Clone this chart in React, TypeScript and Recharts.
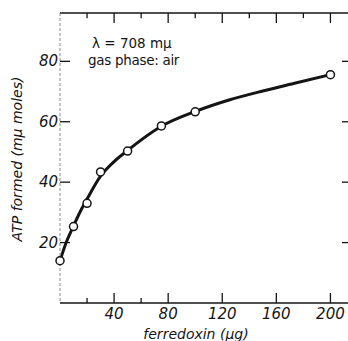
import React from 'react';
import { LineChart, Line, XAxis, YAxis, ReferenceLine } from 'recharts';

// measured points
const ferredoxin = [0, 10, 20, 30, 50, 75, 100, 200];
const atpFormed = [14, 25.3, 33, 43.4, 50.3, 58.6, 63.3, 75.6];
// hand-drawn fitted curve
const curveX = [0, 5, 10, 15, 20, 30, 40, 50, 75, 100, 125, 150, 175, 200];
const curveY = [14, 20.5, 25.5, 30.3, 34.4, 42, 46.8, 50.5, 58.5, 63.4, 67.2, 70.2, 72.9, 75.6];
const xTicks = [20, 40, 60, 80, 100, 120, 140, 160, 180, 200];
const yTicks = [20, 40, 60, 80];

const points = ferredoxin.map((x, i) => ({ x, y: atpFormed[i] }));
const curve = curveX.map((x, i) => ({ x, y: curveY[i] }));

const INK = '#141414';
const FONT = '"DejaVu Sans", sans-serif';
const Y_MAX = 96;

const BottomTick = (props: any) => {
  const { x, y, payload } = props;
  const major = payload.value % 40 === 0;
  return (
    <g>
      <line x1={x} x2={x} y1={y} y2={y - (major ? 10 : 5)} stroke={INK} strokeWidth={1.3} />
      {major && (
        <text x={x} y={y + 16} textAnchor="middle" fontSize={15} fontStyle="italic" fontFamily={FONT} fill={INK}>
          {payload.value}
        </text>
      )}
    </g>
  );
};

const LeftTick = (props: any) => {
  const { x, y, payload } = props;
  return (
    <g>
      <line x1={x} x2={x + 10} y1={y} y2={y} stroke={INK} strokeWidth={1.3} />
      <text x={x - 2} y={y + 5} textAnchor="end" fontSize={15} fontStyle="italic" fontFamily={FONT} fill={INK}>
        {payload.value}
      </text>
    </g>
  );
};

const RightTick = (props: any) => {
  const { x, y } = props;
  return <line x1={x} x2={x - 6} y1={y} y2={y} stroke={INK} strokeWidth={1.3} />;
};

const Dot = (props: any) => {
  const { cx, cy } = props;
  return <circle cx={cx} cy={cy} r={4} fill="#fff" stroke={INK} strokeWidth={1.5} />;
};

export default function App() {
  return (
    <div style={{ position: 'absolute', left: 0, top: 0, width: 348, height: 341, background: '#fff', overflow: 'hidden' }}>
      <LineChart width={348} height={341} margin={{ top: 1, right: -20, bottom: 0, left: 0 }}>
        <XAxis
          xAxisId="bottom"
          dataKey="x"
          type="number"
          domain={[0, 213]}
          ticks={xTicks}
          height={38}
          tickSize={0}
          tickMargin={0}
          tickLine={false}
          tick={<BottomTick />}
          axisLine={{ stroke: INK, strokeWidth: 1.5 }}
          label={{
            value: 'ferredoxin (μg)',
            position: 'insideBottom',
            dx: -8,
            dy: 3,
            fill: INK,
            style: { fontSize: 14, fontStyle: 'italic', fontFamily: FONT, fill: INK },
          }}
        />
        <XAxis
          xAxisId="top"
          orientation="top"
          dataKey="x"
          type="number"
          domain={[0, 213]}
          height={12}
          tick={false}
          tickLine={false}
          axisLine={{ stroke: INK, strokeWidth: 1.5 }}
        />
        <YAxis
          yAxisId="left"
          type="number"
          domain={[0, Y_MAX]}
          ticks={yTicks}
          width={60}
          tickSize={0}
          tickMargin={0}
          tickLine={false}
          tick={<LeftTick />}
          axisLine={{ stroke: '#8a8a8a', strokeWidth: 1, strokeDasharray: '3 2' }}
          label={{
            value: 'ATP formed (mμ moles)',
            angle: -90,
            position: 'insideLeft',
            dx: 12,
            dy: 1,
            fill: INK,
            style: { fontSize: 14, fontStyle: 'italic', fontFamily: FONT, fill: INK, textAnchor: 'middle' },
          }}
        />
        <YAxis
          yAxisId="right"
          orientation="right"
          type="number"
          domain={[0, Y_MAX]}
          ticks={yTicks}
          width={20}
          tickSize={0}
          tickMargin={0}
          tickLine={false}
          tick={<RightTick />}
          interval={0}
          axisLine={false}
        />
        {/* inward ticks on the top frame */}
        {xTicks.map((t) => (
          <ReferenceLine
            key={t}
            xAxisId="bottom"
            yAxisId="left"
            segment={[
              { x: t, y: Y_MAX },
              { x: t, y: Y_MAX - (t % 40 === 0 ? 3.3 : 1.7) },
            ]}
            stroke={INK}
            strokeWidth={1.3}
          />
        ))}
        <Line
          xAxisId="top"
          yAxisId="right"
          data={points}
          dataKey="y"
          stroke="none"
          dot={false}
          activeDot={false}
          isAnimationActive={false}
        />
        <Line
          xAxisId="bottom"
          yAxisId="left"
          data={curve}
          type="monotone"
          dataKey="y"
          stroke={INK}
          strokeWidth={3}
          dot={false}
          activeDot={false}
          isAnimationActive={false}
        />
        <Line
          xAxisId="bottom"
          yAxisId="left"
          data={points}
          dataKey="y"
          stroke="none"
          dot={<Dot />}
          activeDot={false}
          isAnimationActive={false}
        />
      </LineChart>
      <div style={{ position: 'absolute', left: 92, top: 35, fontFamily: FONT, fontSize: 13.5, color: INK, lineHeight: '16px', whiteSpace: 'nowrap' }}>
        λ = 708 mμ
      </div>
      <div style={{ position: 'absolute', left: 88, top: 52, fontFamily: FONT, fontSize: 13.5, color: INK, lineHeight: '16px', whiteSpace: 'nowrap', letterSpacing: -0.3 }}>
        gas phase: air
      </div>
    </div>
  );
}
